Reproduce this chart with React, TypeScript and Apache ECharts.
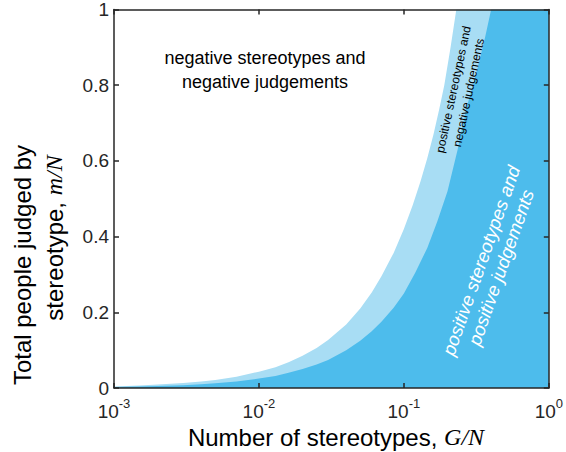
import React, { useEffect, useRef } from "react";
import * as echarts from "echarts";

const xUpper = [0.001, 0.0015, 0.002, 0.003, 0.004, 0.005, 0.007, 0.01, 0.013, 0.016, 0.02, 0.025, 0.03, 0.04, 0.05, 0.06, 0.07, 0.085, 0.1, 0.115, 0.13, 0.145, 0.16, 0.175, 0.19, 0.21, 0.23, 1];
const yUpper = [0.004, 0.0065, 0.009, 0.013, 0.017, 0.021, 0.03, 0.043, 0.055, 0.068, 0.085, 0.106, 0.127, 0.168, 0.21, 0.252, 0.295, 0.357, 0.42, 0.483, 0.545, 0.607, 0.67, 0.735, 0.8, 0.9, 1.0, 1.0];

const xLower = [0.001, 0.0015, 0.002, 0.003, 0.004, 0.005, 0.007, 0.01, 0.013, 0.016, 0.02, 0.025, 0.03, 0.04, 0.05, 0.06, 0.07, 0.085, 0.1, 0.12, 0.145, 0.17, 0.2, 0.235, 0.27, 0.3, 0.33, 0.365, 0.4, 1];
const yLower = [0.0025, 0.0037, 0.005, 0.0075, 0.01, 0.0125, 0.0175, 0.025, 0.032, 0.04, 0.05, 0.062, 0.074, 0.1, 0.125, 0.15, 0.175, 0.212, 0.25, 0.305, 0.37, 0.44, 0.52, 0.63, 0.74, 0.8, 0.86, 0.93, 1.0, 1.0];

const yTicks = [0, 0.2, 0.4, 0.6, 0.8, 1];

const FONT = "'Liberation Sans', Arial, Helvetica, sans-serif";
const SERIF = "'Liberation Serif', 'DejaVu Serif', serif";
const AXIS_COLOR = "#262626";

export default function App() {
  const ref = useRef<HTMLDivElement>(null);
  useEffect(() => {
    if (!ref.current) return;
    const chart = echarts.init(ref.current, undefined, { renderer: "svg" });
    const axisCommon = {
      axisLine: { show: true, onZero: false, lineStyle: { color: AXIS_COLOR, width: 1.5 } },
      axisTick: { show: true, inside: true, length: 5, lineStyle: { color: AXIS_COLOR, width: 1.5 } },
      splitLine: { show: false },
      z: 10,
    };
    const option = {
      animation: false,
      backgroundColor: "#ffffff",
      grid: { left: 114, right: 15, top: 9, bottom: 64, containLabel: false },
      xAxis: [
        {
          type: "log",
          logBase: 10,
          min: 0.001,
          max: 1,
          ...axisCommon,
          axisLabel: {
            show: true,
            margin: 9,
            showMinLabel: true,
            showMaxLabel: true,
            formatter: (v: number) => `{b|10}{s|${Math.round(Math.log10(v))}}`,
            rich: {
              b: { fontSize: 19, fontFamily: FONT, color: AXIS_COLOR, verticalAlign: "bottom", lineHeight: 24 },
              s: { fontSize: 13, fontFamily: FONT, color: AXIS_COLOR, verticalAlign: "top", lineHeight: 16 },
            },
          },
        },
        {
          type: "log",
          logBase: 10,
          min: 0.001,
          max: 1,
          position: "top",
          ...axisCommon,
          axisLabel: { show: false },
        },
      ],
      yAxis: [
        {
          type: "value",
          min: 0,
          max: 1,
          interval: 0.2,
          ...axisCommon,
          axisLabel: {
            show: true,
            margin: 5,
            fontSize: 19,
            fontFamily: FONT,
            color: AXIS_COLOR,
            formatter: (v: number) => {
              const t = yTicks.find((k) => Math.abs(k - v) < 1e-9);
              return t === undefined ? "" : String(t);
            },
          },
        },
        {
          type: "value",
          min: 0,
          max: 1,
          interval: 0.2,
          position: "right",
          ...axisCommon,
          axisLabel: { show: false },
        },
      ],
      series: [
        {
          type: "line",
          name: "upper",
          data: xUpper.map((x, i) => [x, yUpper[i]]),
          showSymbol: false,
          symbol: "none",
          smooth: false,
          lineStyle: { width: 0, opacity: 0 },
          areaStyle: { color: "#a8ddf4", opacity: 1 },
          z: 2,
        },
        {
          type: "line",
          name: "lower",
          data: xLower.map((x, i) => [x, yLower[i]]),
          showSymbol: false,
          symbol: "none",
          smooth: false,
          lineStyle: { width: 0, opacity: 0 },
          areaStyle: { color: "#4dbcec", opacity: 1 },
          z: 3,
        },
      ],
      graphic: [
        {
          type: "text",
          x: 22.5,
          y: 265,
          rotation: Math.PI / 2,
          style: {
            text: "Total people judged by",
            fontSize: 24,
            fontFamily: FONT,
            fill: "#000",
            align: "center",
            verticalAlign: "middle",
          },
        },
        {
          type: "text",
          x: 54,
          y: 238,
          rotation: Math.PI / 2,
          style: {
            text: "{a|stereotype, }{m|m/N}",
            align: "center",
            verticalAlign: "middle",
            rich: {
              a: { fontSize: 24, fontFamily: FONT, fill: "#000" },
              m: { fontSize: 24, fontFamily: SERIF, fontStyle: "italic", fill: "#000" },
            },
          },
        },
        {
          type: "text",
          x: 336,
          y: 437,
          style: {
            text: "{a|Number of stereotypes, }{m|G/N}",
            align: "center",
            verticalAlign: "middle",
            rich: {
              a: { fontSize: 24, fontFamily: FONT, fill: "#000" },
              m: { fontSize: 24, fontFamily: SERIF, fontStyle: "italic", fill: "#000" },
            },
          },
        },
        {
          type: "text",
          x: 265,
          y: 70,
          z: 20,
          style: {
            text: "negative stereotypes and\nnegative judgements",
            fontSize: 18,
            lineHeight: 24,
            fontFamily: FONT,
            fill: "#000",
            align: "center",
            verticalAlign: "middle",
          },
        },
        {
          type: "text",
          x: 461,
          y: 91,
          z: 20,
          rotation: (77.8 * Math.PI) / 180,
          style: {
            text: "positive stereotypes and\nnegative judgements",
            fontSize: 12,
            lineHeight: 15.5,
            fontFamily: FONT,
            fill: "#000",
            align: "center",
            verticalAlign: "middle",
          },
        },
        {
          type: "text",
          x: 491,
          y: 264,
          z: 20,
          rotation: (70.5 * Math.PI) / 180,
          style: {
            text: "positive stereotypes and\npositive judgements",
            fontSize: 18.5,
            lineHeight: 21,
            fontFamily: FONT,
            fontStyle: "italic",
            fill: "#ffffff",
            align: "center",
            verticalAlign: "middle",
          },
        },
      ],
    };
    chart.setOption(option as any);
    return () => chart.dispose();
  }, []);
  return (
    <div
      ref={ref}
      style={{ position: "fixed", left: 0, top: 0, width: 566, height: 452 }}
    />
  );
}
